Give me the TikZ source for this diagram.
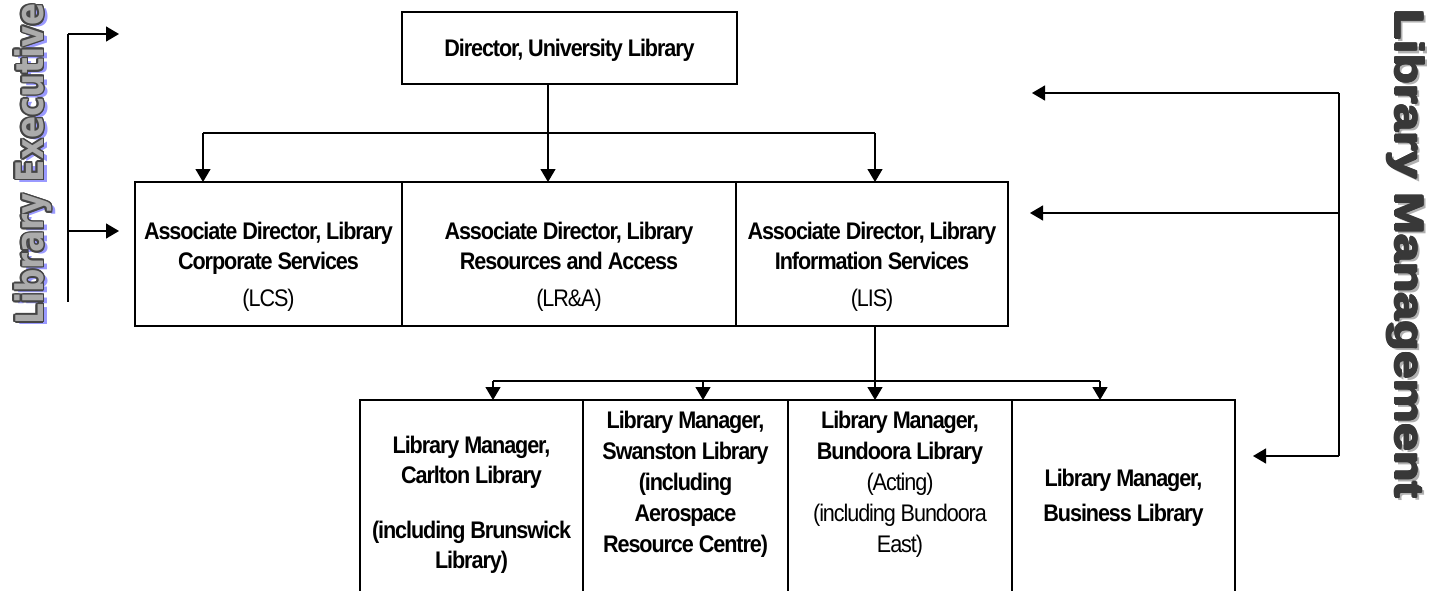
\documentclass[tikz,border=0pt]{standalone}
\usepackage{fontspec}
\setmainfont{Liberation Sans}
\newfontfamily\boxfont[FakeStretch=0.9,LetterSpace=-4.5]{Liberation Sans}
\newfontfamily\execfont{DejaVu Sans}
\newfontfamily\mgmtfont{Liberation Sans}
\usetikzlibrary{arrows.meta,calc}

\definecolor{execfill}{HTML}{ABABAB}
\definecolor{execedge}{HTML}{454545}
\definecolor{execshade}{HTML}{9A9AFF}
\definecolor{mgmtfill}{HTML}{383838}
\definecolor{mgmtshade}{HTML}{B0B0B0}

\begin{document}
\begin{tikzpicture}[x=1pt,y=-1pt,
  box/.style={draw=black, line width=1.6pt, rectangle, inner sep=0pt, outer sep=0pt},
  txt/.style={font=\fontsize{24}{30}\boxfont\bfseries, align=center, inner sep=0pt},
  txtlow/.style={font=\fontsize{24}{31}\boxfont\bfseries, align=center, inner sep=0pt},
  ln/.style={line width=1.3pt},
  arr/.style={line width=1.3pt, -{Triangle[length=13pt,width=15pt]}},
  exec/.style={rotate=90, inner sep=0pt, font=\fontsize{38}{38}\execfont\bfseries},
  mgmt/.style={rotate=-90, inner sep=0pt, font=\fontsize{40}{40}\mgmtfont\bfseries}]

\useasboundingbox (0,0) rectangle (1435,591);

% --- boxes ---
\node[box, minimum width=335pt, minimum height=72pt] (dir) at (569.5,48) {};
\node[txt] (dirt) at ($(dir.center)+(0,2)$) {Director, University Library};

\node[box, minimum width=267pt, minimum height=144pt] (ad1) at (268.5,254) {};
\node[box, minimum width=334pt, minimum height=144pt] (ad2) at (569,254) {};
\node[box, minimum width=272pt, minimum height=144pt] (ad3) at (872,254) {};
\node[txt] (ad1t) at ($(ad1.center)+(0,13)$) {Associate Director, Library\\Corporate Services\\[7pt]{\mdseries (LCS)}};
\node[txt] (ad2t) at ($(ad2.center)+(0,13)$) {Associate Director, Library\\Resources and Access\\[7pt]{\mdseries (LR\&A)}};
\node[txt] (ad3t) at ($(ad3.center)+(0,13)$) {Associate Director, Library\\Information Services\\[7pt]{\mdseries (LIS)}};

\node[box, minimum width=223pt, minimum height=196pt] (bm1) at (471.5,498) {};
\node[box, minimum width=205pt, minimum height=196pt] (bm2) at (685.5,498) {};
\node[box, minimum width=224pt, minimum height=196pt] (bm3) at (900,498) {};
\node[box, minimum width=223pt, minimum height=196pt] (bm4) at (1123.5,498) {};
\node[txt] (bm1t) at ($(bm1.center)+(0,7)$) {Library Manager,\\Carlton Library\\[25pt](including Brunswick\\Library)};
\node[txtlow] (bm2t) at ($(bm2.center)+(0,-14)$) {Library Manager,\\Swanston Library\\(including\\Aerospace\\Resource Centre)};
\node[txtlow] (bm3t) at ($(bm3.center)+(0,-14)$) {Library Manager,\\Bundoora Library\\{\mdseries (Acting)}\\{\mdseries (including Bundoora}\\{\mdseries East)}};
\node[txt] (bm4t) at ($(bm4.center)+(0,0)$) {Library Manager,\\[5pt]Business Library};

% --- director to associate directors ---
\coordinate (j0) at (548,133);
\coordinate (jl) at (203,133);
\coordinate (jr) at (875,133);
\draw[ln] (dir.south -| j0) -- (j0);
\draw[ln] (jl) -- (jr);
\draw[arr] (jl) -- (jl |- ad1.north);
\draw[arr] (j0) -- (j0 |- ad2.north);
\draw[arr] (jr) -- (jr |- ad3.north);

% --- information services to library managers ---
\coordinate (k0) at (875,381);
\coordinate (kl) at (493,381);
\coordinate (k2) at (703,381);
\coordinate (kr) at (1100,381);
\draw[ln] (k0 |- ad3.south) -- (k0);
\draw[ln] (kl) -- (kr);
\draw[arr] (kl) -- (kl |- bm1.north);
\draw[arr] (k2) -- (k2 |- bm2.north);
\draw[arr] (k0) -- (k0 |- bm3.north);
\draw[arr] (kr) -- (kr |- bm4.north);

% --- library management bracket ---
\coordinate (r1) at (1339,93);
\coordinate (r2) at (1339,213);
\coordinate (r3) at (1339,456);
\coordinate (e1) at (1032,93);
\coordinate (e2) at (1030,213);
\coordinate (e3) at (1253,456);
\draw[ln] (r1) -- (r3);
\draw[arr] (r1) -- (e1);
\draw[arr] (r2) -- (e2);
\draw[arr] (r3) -- (e3);

% --- library executive bracket ---
\coordinate (l1) at (68,34);
\coordinate (l2) at (68,231);
\coordinate (l3) at (68,302);
\coordinate (f1) at (119,34);
\coordinate (f2) at (119,231);
\draw[ln] (l1) -- (l3);
\draw[arr] (l1) -- (f1);
\draw[arr] (l2) -- (f2);

% --- side titles ---
\coordinate (execpos) at (33,164);
\node[exec, text=execshade] (exsh) at ($(execpos)+(4,3)$) {\scalebox{0.86}[1]{Library Executive}};
\foreach \a in {0,30,...,330}
  \node[exec, text=execedge] (exol\a) at ($(execpos)+(\a:1.6)$) {\scalebox{0.86}[1]{Library Executive}};
\node[exec, text=execfill] (ex) at (execpos) {\scalebox{0.86}[1]{Library Executive}};

\coordinate (mgmtpos) at (1406,254);
\node[mgmt, text=mgmtshade] (mgsh) at ($(mgmtpos)+(3,3)$) {\scalebox{1.25}[1]{Library Management}};
\foreach \a in {0,45,...,315}
  \node[mgmt, text=mgmtfill] (mgol\a) at ($(mgmtpos)+(\a:0.9)$) {\scalebox{1.25}[1]{Library Management}};
\end{tikzpicture}
\end{document}
